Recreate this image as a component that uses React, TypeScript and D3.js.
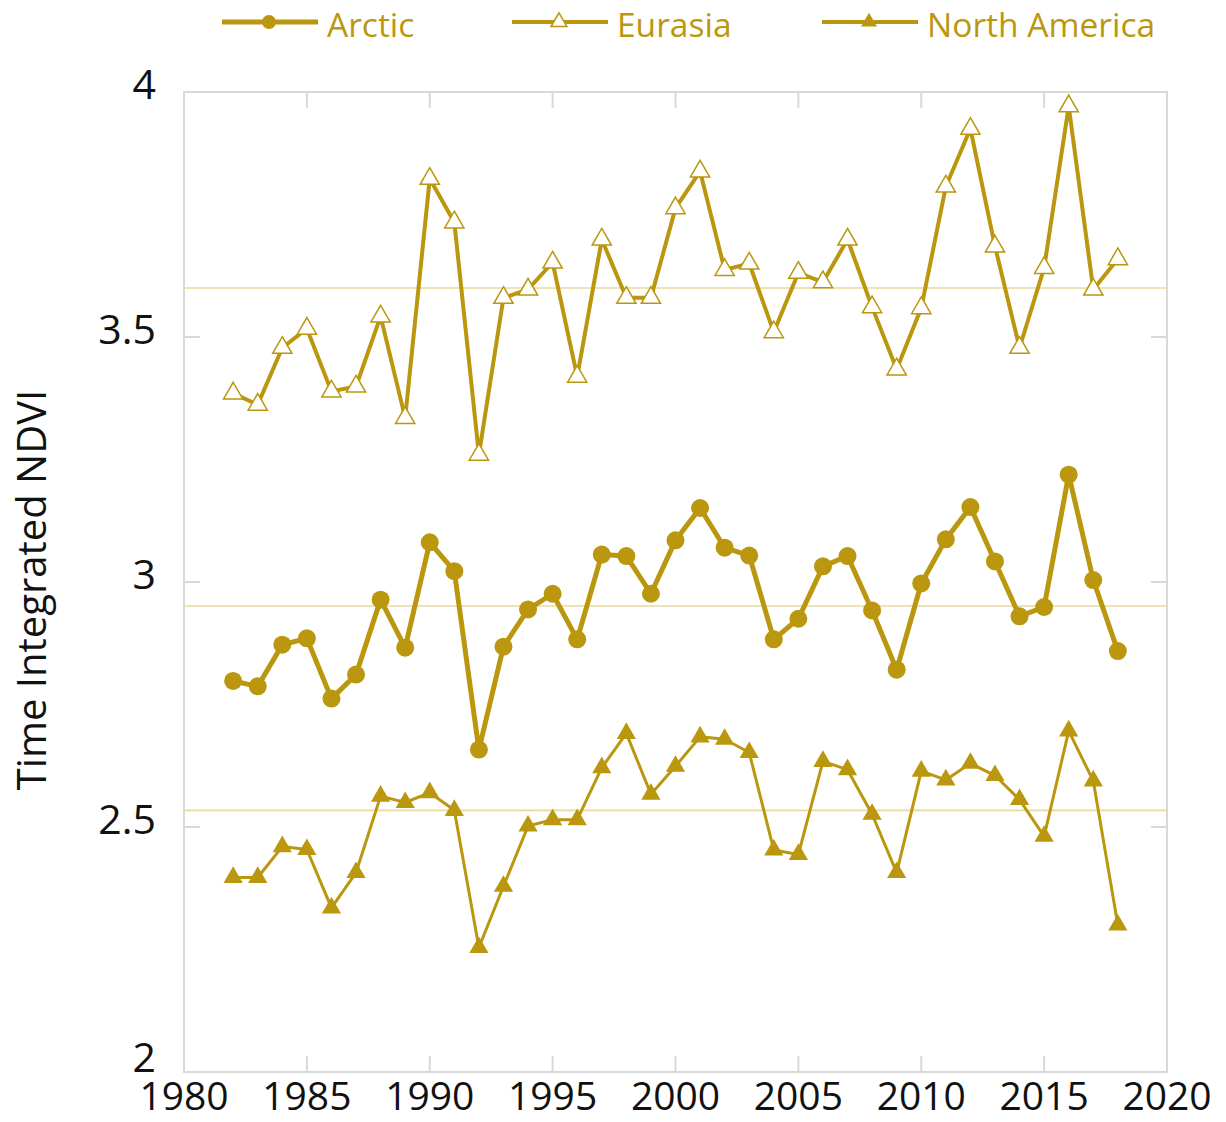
import React from "react";
import * as d3 from "d3";

const years = d3.range(1982, 2019);
const arctic = [2.798, 2.787, 2.872, 2.885, 2.762, 2.811, 2.964, 2.866, 3.081, 3.022, 2.658, 2.868, 2.944, 2.976, 2.883, 3.056, 3.053, 2.976, 3.085, 3.151, 3.07, 3.054, 2.883, 2.925, 3.032, 3.053, 2.942, 2.821, 2.997, 3.087, 3.153, 3.042, 2.93, 2.949, 3.219, 3.004, 2.859];
const eurasia = [3.385, 3.362, 3.478, 3.517, 3.389, 3.399, 3.542, 3.335, 3.823, 3.734, 3.26, 3.58, 3.597, 3.652, 3.419, 3.699, 3.58, 3.58, 3.763, 3.838, 3.637, 3.65, 3.51, 3.631, 3.612, 3.699, 3.561, 3.434, 3.559, 3.807, 3.925, 3.685, 3.478, 3.641, 3.971, 3.597, 3.659];
const northAmerica = [2.397, 2.397, 2.46, 2.454, 2.335, 2.407, 2.563, 2.55, 2.57, 2.534, 2.254, 2.379, 2.502, 2.515, 2.515, 2.621, 2.691, 2.567, 2.624, 2.684, 2.679, 2.652, 2.453, 2.444, 2.634, 2.617, 2.526, 2.407, 2.614, 2.596, 2.63, 2.605, 2.556, 2.481, 2.696, 2.594, 2.3];
const meanValues = [2.951, 3.6, 2.534];
const xTicks = [1980, 1985, 1990, 1995, 2000, 2005, 2010, 2015, 2020];
const yTicks = [2, 2.5, 3, 3.5, 4];
const seriesNames = ["Arctic", "Eurasia", "North America"];

const GOLD = "#BA970E";
const MEAN = "#E9D9A0";
const FRAME = "#D9D9D9";

export default function App() {
  const left = 184, right = 1167, top = 92, bottom = 1072;
  const x = d3.scaleLinear().domain([1980, 2020]).range([left, right]);
  const y = d3.scaleLinear().domain([2, 4]).range([bottom, top]);
  const line = d3.line<number>().x((_, i) => x(years[i])).y((d) => y(d));
  const circ = d3.symbol().type(d3.symbolCircle).size(Math.PI * 81)();
  const tri = d3.symbol().type(d3.symbolTriangle).size(160)();
  const circL = d3.symbol().type(d3.symbolCircle).size(Math.PI * 49)();
  const triL = d3.symbol().type(d3.symbolTriangle).size(110)();

  const series = [
    { name: seriesNames[0], data: arctic, width: 5, path: circ, lpath: circL, fill: GOLD, stroke: "none" },
    { name: seriesNames[1], data: eurasia, width: 4, path: tri, lpath: triL, fill: "#fff", stroke: GOLD },
    { name: seriesNames[2], data: northAmerica, width: 3, path: tri, lpath: triL, fill: GOLD, stroke: "none" },
  ];
  const legendX = [222, 512, 822];
  const font = "'Open Sans', sans-serif";

  return (
    <svg width={1226} height={1122} style={{ position: "absolute", left: 0, top: 0, background: "#fff" }} fontFamily={font}>
      <rect x={left} y={top} width={right - left} height={bottom - top} fill="none" stroke={FRAME} strokeWidth={2} />
      {xTicks.map((t) => (
        <g key={"xt" + t}>
          <line x1={x(t)} x2={x(t)} y1={top} y2={top + 16} stroke={FRAME} strokeWidth={2} />
          <line x1={x(t)} x2={x(t)} y1={bottom} y2={bottom - 16} stroke={FRAME} strokeWidth={2} />
          <text x={x(t)} y={1110} textAnchor="middle" fontSize={39} fill="#111">{t}</text>
        </g>
      ))}
      {yTicks.map((t) => (
        <g key={"yt" + t}>
          <line x1={left} x2={left + 16} y1={y(t)} y2={y(t)} stroke={FRAME} strokeWidth={2} />
          <line x1={right} x2={right - 16} y1={y(t)} y2={y(t)} stroke={FRAME} strokeWidth={2} />
          <text x={156} y={y(t) - (t === 2 ? 14 : 7)} dy="0.35em" textAnchor="end" fontSize={41} fill="#111">{t}</text>
        </g>
      ))}
      <text transform="translate(46,590) rotate(-90)" textAnchor="middle" fontSize={40} fill="#111">Time Integrated NDVI</text>
      {meanValues.map((m, i) => (
        <line key={"m" + i} x1={left} x2={right} y1={y(m)} y2={y(m)} stroke={MEAN} strokeWidth={1.6} />
      ))}
      {series.map((s) => (
        <g key={s.name}>
          <path d={line(s.data) || ""} fill="none" stroke={GOLD} strokeWidth={s.width} strokeLinejoin="round" />
          {s.data.map((v, i) => (
            <path key={i} d={s.path || ""} transform={`translate(${x(years[i])},${y(v)})`} fill={s.fill} stroke={s.stroke} strokeWidth={1.5} />
          ))}
        </g>
      ))}
      {series.map((s, i) => (
        <g key={"lg" + s.name} transform={`translate(${legendX[i]},22)`}>
          <line x1={0} x2={96} y1={0} y2={0} stroke={GOLD} strokeWidth={i === 0 ? 5 : 4} />
          <path d={s.lpath || ""} transform="translate(47,0)" fill={s.fill} stroke={s.stroke} strokeWidth={1.5} />
          <text x={105} y={3} dy="0.35em" fontSize={33.5} fill={GOLD}>{s.name}</text>
        </g>
      ))}
    </svg>
  );
}
